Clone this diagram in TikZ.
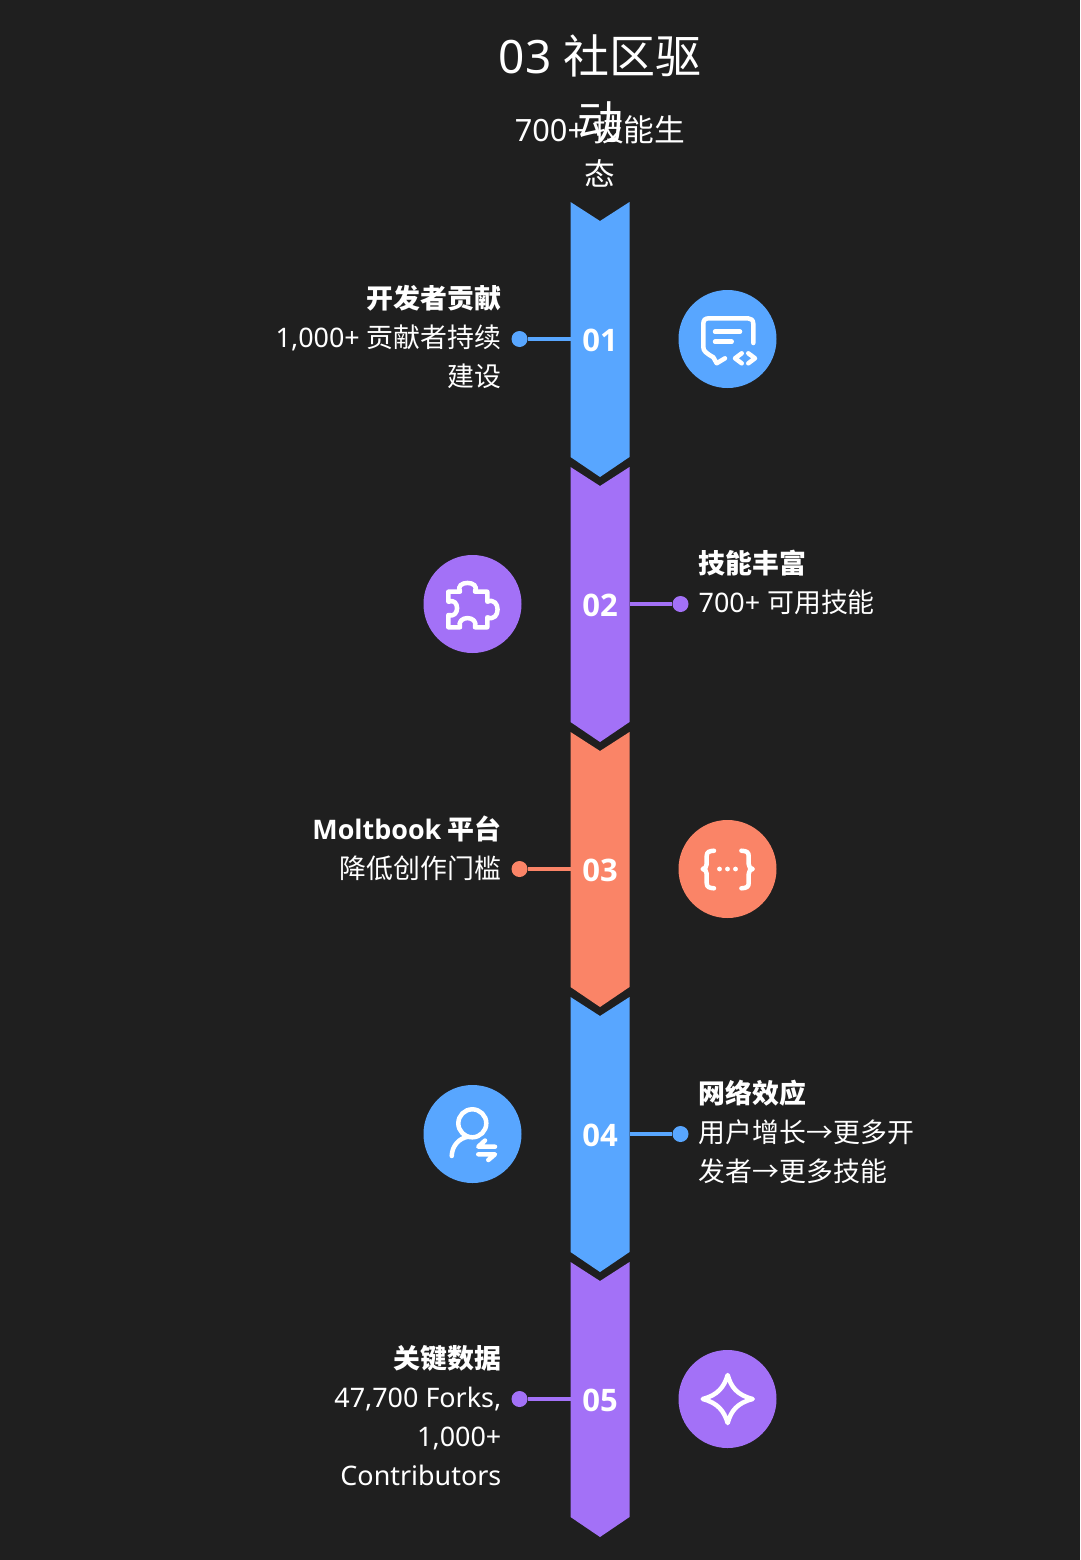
\documentclass[tikz,border=0pt]{standalone}
\usepackage{fontspec}
\setmainfont{Noto Sans CJK SC}
\newfontfamily\latfont{Noto Sans}
\newfontfamily\latbold{Open Sans}
\definecolor{cbg}{RGB}{31,31,31}
\definecolor{cblue}{RGB}{88,166,255}
\definecolor{cpurple}{RGB}{163,113,247}
\definecolor{ccoral}{RGB}{250,132,103}
\tikzset{
  flowsec/.style={x=1pt,y=-1pt},
  headline/.style={white,align=center,font=\fontsize{46}{66}\selectfont},
  subline/.style={white,align=center,font=\fontsize{30.7}{44}\selectfont},
  numlabel/.style={white,font=\fontsize{31}{36}\selectfont\latbold\bfseries},
  textleft/.style={white,anchor=north east,align=right,inner sep=0pt,font=\fontsize{26.9}{39}\selectfont},
  textright/.style={white,anchor=north west,align=left,inner sep=0pt,font=\fontsize{26.9}{39}\selectfont},
  dotnode/.style={circle,inner sep=0pt,minimum size=16pt},
  badge/.style={circle,inner sep=0pt,minimum size=98pt},
  iconline/.style={white,line width=4.5pt,line cap=round,line join=round},
}

\begin{document}
\begin{tikzpicture}[flowsec]
    \useasboundingbox (0,0) rectangle (1080,1560);
    \fill[cbg] (0,0) rectangle (1080,1560);
    % arrow segments, dots and badges
    \foreach \i/\c/\dx/\ex/\bx in {1/cblue/519.5/570.5/727.5,2/cpurple/680.5/629.5/472.5,3/ccoral/519.5/570.5/727.5,4/cblue/680.5/629.5/472.5,5/cpurple/519.5/570.5/727.5} {
      \pgfmathsetmacro{\top}{202+265*(\i-1)}
      \pgfmathsetmacro{\mid}{339+265*(\i-1)}
      \fill[\c] (570.5,\top) -- (600,{\top+19}) -- (629.5,\top) -- (629.5,{\top+255}) -- (600,{\top+275}) -- (570.5,{\top+255}) -- cycle;
      \node[dotnode,fill=\c] (dot\i) at (\dx,\mid) {};
      \coordinate (edge\i) at (\ex,\mid);
      \draw[\c,line width=4pt] (dot\i) -- (edge\i);
      \node[numlabel] (num\i) at (600,{\mid+1}) {0\i};
      \node[badge,fill=\c] (badge\i) at (\bx,\mid) {};
    }
    \node[subline] (subtitle) at (600,151) {{\latfont 700+ }技能生\\态};
    \node[headline] (title) at (600,89) {{\latfont 03 }社区驱\\动};
    \node[textleft] (text1) at (501.5,285) {\bfseries 开发者贡献\\{\latfont 1,000+ }贡献者持续\\建设};
    \node[textright] (text2) at (698.5,550) {\bfseries 技能丰富\\{\latfont 700+ }可用技能};
    \node[textleft] (text3) at (501.5,816) {\bfseries {\latbold\bfseries Moltbook} 平台\\降低创作门槛};
    \node[textright] (text4) at (698.5,1080) {\bfseries 网络效应\\用户增长→更多开\\发者→更多技能};
    \node[textleft] (text5) at (501.5,1345) {\bfseries 关键数据\\{\latfont 47,700 Forks,}\\{\latfont 1,000+}\\{\latfont Contributors}};
    % chat icon
    \draw[iconline] (753.3,343) -- (753.3,324) .. controls (753.3,320) and (751,318.3) .. (748,318.3) -- (709,318.3) .. controls (705,318.3) and (703.3,320) .. (703.3,324) -- (703.3,347) .. controls (703.3,351) and (706,353) .. (713.3,357.3) -- (716.7,363.3) -- (725,358.3);
    \draw[iconline] (715,331.7) -- (740,331.7) (715,341.7) -- (731.7,341.7);
    \draw[iconline] (741.7,353.3) -- (735,358.3) -- (741.7,363.3) (748.3,353.3) -- (755,358.3) -- (748.3,363.3);
    % puzzle icon
    \draw[iconline] (448.3,591.7) -- (460,591.7) .. controls (454,580) and (481,580) .. (475,591.7) -- (487.3,591.7) -- (487.3,601.7) .. controls (501,596) and (501,623) .. (487.3,617.3) -- (487.3,627.3) -- (475,627.3) .. controls (479,615) and (456,615) .. (460,627.3) -- (448.3,627.3) -- (448.3,615) .. controls (460,619) and (460,597) .. (448.3,601.7) -- cycle;
    % braces icon
    \draw[iconline] (714,850.7) .. controls (709,851) and (706.7,852) .. (706.7,856) -- (706.7,864) .. controls (706.7,867) and (705,869) .. (702.7,869) .. controls (705,869) and (706.7,871) .. (706.7,874) -- (706.7,883) .. controls (706.7,887) and (709,888) .. (714,888.3);
    \draw[iconline] (741.4,850.7) .. controls (746.4,851) and (748.7,852) .. (748.7,856) -- (748.7,864) .. controls (748.7,867) and (750.4,869) .. (752.7,869) .. controls (750.4,869) and (748.7,871) .. (748.7,874) -- (748.7,883) .. controls (748.7,887) and (746.4,888) .. (741.4,888.3);
    \foreach \x in {719.5,727.5,735.5} \fill[white] (\x,869) circle (2.4pt);
    % person icon
    \draw[iconline] (472.3,1123.3) circle (14pt);
    \draw[iconline] (451.7,1156) .. controls (452,1146) and (459,1138) .. (468.3,1136.7);
    \draw[iconline] (485,1140.5) -- (478.3,1146.7) -- (495,1146.7) (478.3,1154.3) -- (495,1154.3) -- (488.3,1160);
    % star icon
    \draw[iconline] (727.7,1375) .. controls (731,1387) and (737,1395) .. (752.7,1399) .. controls (737,1403) and (731,1411) .. (727.7,1423) .. controls (724,1411) and (718,1403) .. (702.7,1399) .. controls (718,1395) and (724,1387) .. (727.7,1375) -- cycle;
\end{tikzpicture}
\end{document}
